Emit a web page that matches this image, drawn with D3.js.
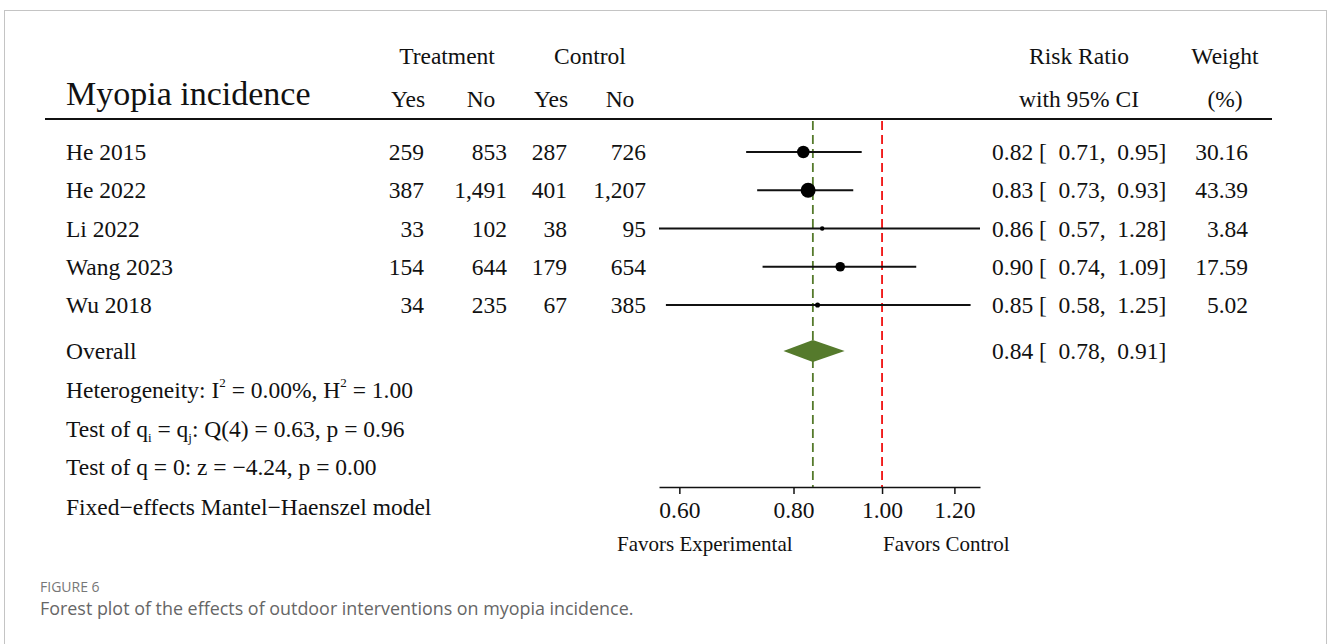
<!DOCTYPE html>
<html>
<head>
<meta charset="utf-8">
<script src="https://cdn.jsdelivr.net/npm/d3@7"></script>
<style>
  body { margin: 0; background: #fff; }
  svg text { font-family: "Liberation Serif", "Times New Roman", serif; fill: #111; }
</style>
</head>
<body>
<div id="chart"></div>
<script>
// study data
var studies = ["He 2015", "He 2022", "Li 2022", "Wang 2023", "Wu 2018"];
var treatYes = [259, 387, 33, 154, 34];
var treatNo = [853, 1491, 102, 644, 235];
var ctrlYes = [287, 401, 38, 179, 67];
var ctrlNo = [726, 1207, 95, 654, 385];
var rr = [0.82, 0.83, 0.86, 0.90, 0.85];
var rrLow = [0.71, 0.73, 0.57, 0.74, 0.58];
var rrHigh = [0.95, 0.93, 1.28, 1.09, 1.25];
var weights = [30.16, 43.39, 3.84, 17.59, 5.02];
var overall = [0.84, 0.78, 0.91];
var tickValues = [0.6, 0.8, 1.0, 1.2];
var notes = [
  ["Heterogeneity: I", "2", " = 0.00%, H", "2", " = 1.00"],
  ["Test of q", "i", " = q", "j", ": Q(4) = 0.63, p = 0.96"],
  ["Test of q = 0: z = \u22124.24, p = 0.00"],
  ["Fixed\u2212effects Mantel\u2212Haenszel model"]
];

var width = 1328, height = 644;
var fs = "23.5px";
var svg = d3.select("#chart").append("svg")
    .attr("width", width)
    .attr("height", height);

// figure frame
svg.append("rect")
    .attr("x", 4.5).attr("y", 10.5)
    .attr("width", 1322).attr("height", 700)
    .attr("fill", "none")
    .attr("stroke", "#c4c4c4");

var x = d3.scaleLog()
    .domain([d3.min(rrLow), d3.max(rrHigh)])
    .range([659, 980]);

var y = d3.scaleLinear()
    .domain([0, studies.length - 1])
    .range([152, 305]);
var rowStep = y(1) - y(0);
var yOverall = y(studies.length - 1) + rowStep * 1.2;
var axisY = 487;

var r = d3.scaleSqrt()
    .domain([0, d3.max(weights)])
    .range([0, 7.5]);

var f2 = d3.format(".2f");
var fn = d3.format(",");

// headers
svg.append("text").attr("x", 66).attr("y", 105)
    .style("font-size", "34px").text("Myopia incidence");

var hdr = [
  { t: "Treatment", x: 447, y: 64 },
  { t: "Control", x: 590, y: 64 },
  { t: "Yes", x: 408, y: 107 },
  { t: "No", x: 481, y: 107 },
  { t: "Yes", x: 551, y: 107 },
  { t: "No", x: 620, y: 107 },
  { t: "Risk Ratio", x: 1079, y: 64 },
  { t: "with 95% CI", x: 1079, y: 107 },
  { t: "Weight", x: 1225, y: 64 },
  { t: "(%)", x: 1225, y: 107 }
];
svg.selectAll(".hdr").data(hdr).enter().append("text")
    .attr("x", function(d) { return d.x; })
    .attr("y", function(d) { return d.y; })
    .attr("text-anchor", "middle")
    .style("font-size", fs)
    .text(function(d) { return d.t; });

svg.append("line")
    .attr("x1", 45).attr("x2", 1272)
    .attr("y1", 119).attr("y2", 119)
    .attr("stroke", "#111").attr("stroke-width", 2);

// reference lines
svg.append("line")
    .attr("x1", x(1)).attr("x2", x(1))
    .attr("y1", 121).attr("y2", axisY)
    .attr("stroke", "#f01010").attr("stroke-width", 1.8)
    .attr("stroke-dasharray", "9,5");
svg.append("line")
    .attr("x1", x(overall[0])).attr("x2", x(overall[0]))
    .attr("y1", 121).attr("y2", axisY)
    .attr("stroke", "#557a2c").attr("stroke-width", 1.8)
    .attr("stroke-dasharray", "9,5");

// study rows
var rows = svg.selectAll(".row").data(studies).enter().append("g")
    .attr("class", "row")
    .attr("transform", function(d, i) { return "translate(0," + y(i) + ")"; });

rows.append("text").attr("x", 66).attr("y", 8)
    .style("font-size", fs).text(function(d) { return d; });

var cols = [
  { v: treatYes, x: 424 },
  { v: treatNo, x: 507 },
  { v: ctrlYes, x: 567 },
  { v: ctrlNo, x: 646 }
];
cols.forEach(function(c) {
  rows.append("text").attr("x", c.x).attr("y", 8)
      .attr("text-anchor", "end")
      .style("font-size", fs)
      .text(function(d, i) { return fn(c.v[i]); });
});

rows.append("line")
    .attr("x1", function(d, i) { return x(rrLow[i]); })
    .attr("x2", function(d, i) { return x(rrHigh[i]); })
    .attr("stroke", "#111").attr("stroke-width", 2);

rows.append("circle")
    .attr("cx", function(d, i) { return x(rr[i]); })
    .attr("r", function(d, i) { return r(weights[i]); })
    .attr("fill", "#000");

function ciText(m, lo, hi) {
  return f2(m) + " [  " + f2(lo) + ",  " + f2(hi) + "]";
}
rows.append("text").attr("x", 992).attr("y", 8)
    .style("font-size", fs).style("white-space", "pre")
    .attr("xml:space", "preserve")
    .text(function(d, i) { return ciText(rr[i], rrLow[i], rrHigh[i]); });

rows.append("text").attr("x", 1248).attr("y", 8)
    .attr("text-anchor", "end")
    .style("font-size", fs)
    .text(function(d, i) { return f2(weights[i]); });

// overall
svg.append("text").attr("x", 66).attr("y", yOverall + 8)
    .style("font-size", fs).text("Overall");
svg.append("path")
    .attr("d", "M" + x(overall[1]) + "," + yOverall +
               "L" + x(overall[0]) + "," + (yOverall - 11) +
               "L" + x(overall[2]) + "," + yOverall +
               "L" + x(overall[0]) + "," + (yOverall + 11) + "Z")
    .attr("fill", "#557a2c");
svg.append("text").attr("x", 992).attr("y", yOverall + 8)
    .style("font-size", fs).style("white-space", "pre")
    .attr("xml:space", "preserve")
    .text(ciText(overall[0], overall[1], overall[2]));

// notes
var noteY = [398, 437, 475, 515];
notes.forEach(function(parts, k) {
  var t = svg.append("text").attr("x", 66).attr("y", noteY[k])
      .style("font-size", fs);
  parts.forEach(function(p, j) {
    var ts = t.append("tspan").text(p);
    if (j % 2 === 1) {
      ts.attr("dy", k === 0 ? -11 : 5).style("font-size", "13px");
    } else if (j > 0) {
      ts.attr("dy", k === 0 ? 11 : -5);
    }
  });
});

// axis
var axis = d3.axisBottom(x)
    .tickValues(tickValues)
    .tickFormat(f2)
    .tickSize(7)
    .tickSizeOuter(0);
var gx = svg.append("g")
    .attr("transform", "translate(0," + axisY + ")")
    .call(axis);
gx.select(".domain").attr("stroke", "#111").attr("stroke-width", 1.5);
gx.selectAll(".tick line").attr("stroke", "#111").attr("stroke-width", 1.5);
gx.selectAll(".tick text")
    .attr("y", 14)
    .style("font-family", "'Liberation Serif', serif")
    .style("font-size", fs)
    .attr("fill", "#111");

svg.append("text").attr("x", 617).attr("y", 551)
    .style("font-size", "21px").text("Favors Experimental");
svg.append("text").attr("x", 883).attr("y", 551)
    .style("font-size", "21px").text("Favors Control");

// caption
svg.append("text").attr("x", 40).attr("y", 592)
    .style("font-family", "'Open Sans', sans-serif")
    .style("font-size", "14px").style("fill", "#777")
    .text("FIGURE 6");
svg.append("text").attr("x", 40).attr("y", 615)
    .style("font-family", "'Open Sans', sans-serif")
    .style("font-size", "17.9px").style("fill", "#666")
    .text("Forest plot of the effects of outdoor interventions on myopia incidence.");
</script>
</body>
</html>
